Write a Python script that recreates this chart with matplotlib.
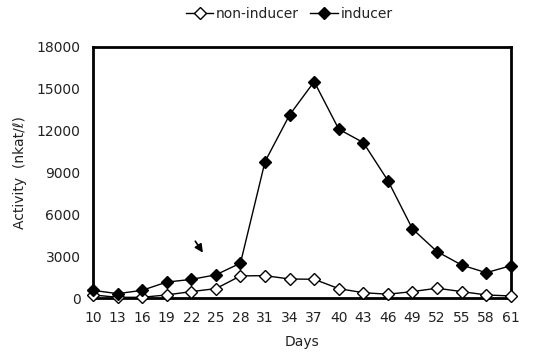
import matplotlib.pyplot as plt
import numpy as np

days = [10, 13, 16, 19, 22, 25, 28, 31, 34, 37, 40, 43, 46, 49, 52, 55, 58, 61]
non_inducer = [240, 70, 70, 240, 480, 690, 1600, 1620, 1380, 1360, 690, 400, 290,
               480, 720, 480, 240, 165]
inducer = [570, 330, 570, 1160, 1350, 1680, 2510, 9780, 13120, 15500, 12100, 11140,
           8420, 4960, 3340, 2380, 1830, 2330]
yticks = [0, 3000, 6000, 9000, 12000, 15000, 18000]

fig = plt.figure(figsize=(5.49, 3.52), dpi=100)
ax = fig.add_axes([0.1694, 0.1526, 0.761, 0.7147])

ax.plot(days, non_inducer, color='black', lw=1, marker='D', ms=6.5,
        mfc='white', mec='black', mew=1, label='non-inducer', clip_on=False, zorder=3)
ax.plot(days, inducer, color='black', lw=1, marker='D', ms=6.5,
        mfc='black', mec='black', label='inducer', clip_on=False, zorder=4)

ax.set_xlim(10, 61)
ax.set_ylim(0, 18000)
ax.set_xticks(days)
ax.set_yticks(yticks)
ax.tick_params(length=0, labelsize=10, pad=9, labelcolor='#222222')
for s in ax.spines.values():
    s.set_linewidth(2)

ax.set_xlabel('Days', fontsize=10, labelpad=7, color='#222222')
ax.set_ylabel('Activity  (nkat/\u2113)', fontsize=10, labelpad=7, color='#222222')

# arrow marking the induction point
ax.annotate('', xy=(23.6, 3100), xytext=(22.3, 4250),
            arrowprops=dict(arrowstyle='-|>', color='black', lw=1.2, mutation_scale=12))

ax.legend(loc='lower center', bbox_to_anchor=(0.47, 1.08), ncol=2, frameon=False,
          fontsize=10, handlelength=2, handletextpad=0.2, columnspacing=0.8,
          borderaxespad=0, labelcolor='#222222')

fig.savefig('out.png', dpi=100)
